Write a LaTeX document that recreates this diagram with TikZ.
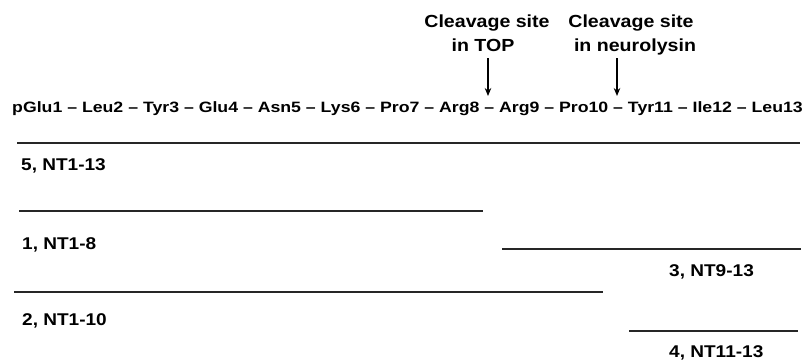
\documentclass[tikz,border=0pt]{standalone}
\usepackage{fontspec}
\usetikzlibrary{arrows.meta}
\newfontfamily\seqfont{Liberation Sans}[FakeStretch=1.18]
\newfontfamily\labfont{Liberation Sans}[FakeStretch=1.12]
\begin{document}
\begin{tikzpicture}[x=1pt,y=-1pt,
  seqtext/.style={inner sep=0pt,anchor=base west,font=\seqfont\bfseries\fontsize{15}{17}\selectfont},
  fraglabel/.style={inner sep=0pt,anchor=base west,font=\labfont\bfseries\fontsize{17}{20}\selectfont},
  sitelabel/.style={inner sep=0pt,anchor=base,font=\labfont\bfseries\fontsize{17.5}{20}\selectfont},
  fragment/.style={line width=2.4pt,black!85},
  cutarrow/.style={line width=1.8pt,-{Stealth[length=8pt,width=6.5pt]}}]
\useasboundingbox[fill=white] (0,0) rectangle (808,360);

% cleavage site annotations
\node[sitelabel] (topA) at (487,27) {Cleavage site};
\node[sitelabel] (topB) at (483,51) {in TOP};
\node[sitelabel] (neuA) at (631,27) {Cleavage site};
\node[sitelabel] (neuB) at (635,51) {in neurolysin};

% peptide sequence
\node[seqtext] (seq) at (12,112) {pGlu1 – Leu2 – Tyr3 – Glu4 – Asn5 – Lys6 – Pro7 – Arg8 – Arg9 – Pro10 – Tyr11 – Ile12 – Leu13};

% arrows pointing at the cleaved bonds
\coordinate (topS) at (488,58);
\coordinate (topE) at (488,96);
\coordinate (neuS) at (617,58);
\coordinate (neuE) at (617,96);
\draw[cutarrow] (topS) -- (topE);
\draw[cutarrow] (neuS) -- (neuE);

% fragments
\coordinate (f5a) at (17,143);  \coordinate (f5b) at (800,143);
\coordinate (f1a) at (19,211);  \coordinate (f1b) at (483,211);
\coordinate (f3a) at (502,249); \coordinate (f3b) at (801,249);
\coordinate (f2a) at (14,292);  \coordinate (f2b) at (603,292);
\coordinate (f4a) at (629,331); \coordinate (f4b) at (798,331);
\draw[fragment] (f5a) -- (f5b);
\draw[fragment] (f1a) -- (f1b);
\draw[fragment] (f3a) -- (f3b);
\draw[fragment] (f2a) -- (f2b);
\draw[fragment] (f4a) -- (f4b);

\node[fraglabel] (l5) at (21,170) {5, NT1-13};
\node[fraglabel] (l1) at (22,249) {1, NT1-8};
\node[fraglabel] (l3) at (669,276) {3, NT9-13};
\node[fraglabel] (l2) at (22,325) {2, NT1-10};
\node[fraglabel] (l4) at (669,357) {4, NT11-13};
\end{tikzpicture}
\end{document}
